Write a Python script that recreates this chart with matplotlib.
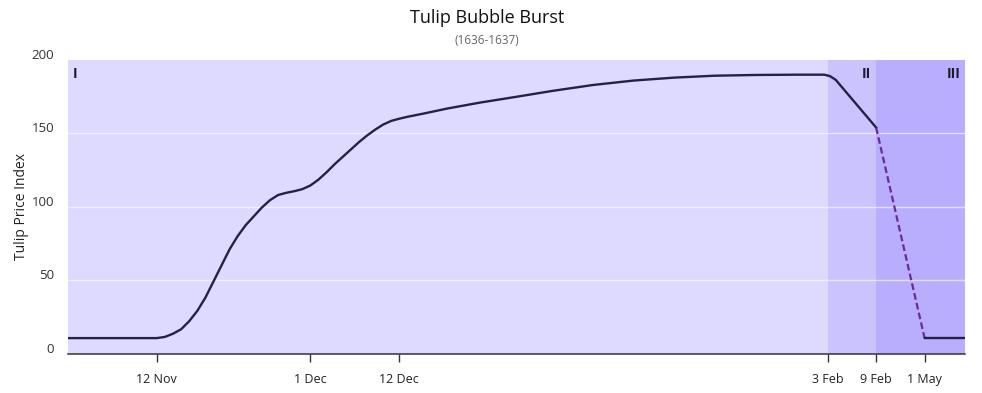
import matplotlib.pyplot as plt
import matplotlib.transforms as mtransforms

plt.rcParams['font.family'] = ['Open Sans', 'DejaVu Sans']

# x is days since 1 Nov 1636; the axis is squeezed after 9 Feb (1 May sits at 106)
days = [0, 11, 12, 13, 14, 15, 16, 17, 18, 19, 20, 21, 22, 23, 24, 25, 26, 27,
        28, 29, 30, 31, 32, 33, 34, 35, 36, 37, 38, 39, 40, 41, 42, 44, 47, 51,
        55, 60, 65, 70, 75, 80, 85, 90, 93.6, 94.3, 95, 100]
price = [10.5, 10.5, 11.3, 13.5, 16.5, 22, 29, 38, 49, 60, 71, 80, 87.5, 93.5,
         99.5, 104.5, 108, 109.5, 110.6, 112, 114.5, 118.5, 123.5, 129, 134, 139,
         144, 148.5, 152.5, 156, 158.5, 160, 161.3, 163.5, 167, 171, 174.5, 179,
         183, 186, 188, 189.3, 189.8, 190, 190, 189, 186.5, 154]
crash_days = [100, 106]
crash_price = [154, 10.5]
tail_days = [106, 111]
tail_price = [10.5, 10.5]

tick_pos = [11, 30, 41, 94, 100, 106]
tick_labels = ['12 Nov', '1 Dec', '12 Dec', '3 Feb', '9 Feb', '1 May']

phases = [(0, 94, 'I', '#ddd9ff'), (94, 100, 'II', '#cac3fd'), (100, 111, 'III', '#b8aefd')]

fig = plt.figure(figsize=(9.82, 3.93), dpi=100)
ax = fig.add_axes([0.0692, 0.1005, 0.9135, 0.7468])

for x0, x1, name, col in phases:
    ax.axvspan(x0, x1, color=col, lw=0, zorder=0)
ax.text(0.6, 195, 'I', fontsize=10, fontweight='bold', color='#1a1a2e', va='top', ha='left')
ax.text(99.4, 195, 'II', fontsize=10, fontweight='bold', color='#1a1a2e', va='top', ha='right')
ax.text(110.5, 195, 'III', fontsize=10, fontweight='bold', color='#1a1a2e', va='top', ha='right')

for g in [50, 100, 150]:
    ax.axhline(g, color='white', lw=1, alpha=0.6, zorder=1)

ax.plot(days, price, color='#262048', lw=1.7, zorder=3, solid_joinstyle='round')
ax.plot(crash_days, crash_price, color='#6a2a9a', lw=1.6, ls=(0, (3, 1.5)), zorder=3)
ax.plot(tail_days, tail_price, color='#262048', lw=1.7, zorder=3)

ax.set_xlim(0, 111)
ax.set_ylim(0, 200)
ax.set_xticks(tick_pos)
ax.set_xticklabels(tick_labels, fontsize=9, color='#222222')
ax.set_yticks([0, 50, 100, 150, 200])
ax.tick_params(axis='x', length=6, width=1, color='#333333', pad=8)
ax.tick_params(axis='y', length=0, labelsize=9.5, labelcolor='#333333', pad=10)
offset = mtransforms.ScaledTranslation(0, 6 / 100, fig.dpi_scale_trans)
for lab in ax.get_yticklabels():
    lab.set_transform(lab.get_transform() + offset)

for s in ['top', 'right', 'left']:
    ax.spines[s].set_visible(False)
ax.spines['bottom'].set_color('#333333')
ax.spines['bottom'].set_linewidth(1.1)

ax.set_ylabel('Tulip Price Index', fontsize=10, color='#222222', labelpad=2)

fig.text(0.496, 0.955, 'Tulip Bubble Burst', ha='center', va='center', fontsize=13, color='#111111')
fig.text(0.496, 0.898, '(1636-1637)', ha='center', va='center', fontsize=8.5, color='#666666')

fig.savefig('out.png', dpi=100)
